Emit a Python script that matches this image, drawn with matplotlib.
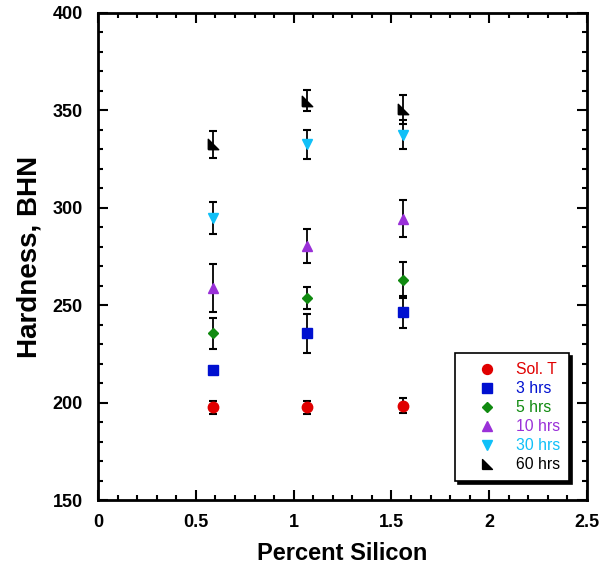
import matplotlib
matplotlib.use("Agg")
import matplotlib.pyplot as plt
from matplotlib.ticker import MultipleLocator

plt.rcParams['font.family'] = ['Liberation Sans', 'DejaVu Sans']

silicon = [0.59, 1.07, 1.56]

series_names = ["Sol. T", "3 hrs", "5 hrs", "10 hrs", "30 hrs", "60 hrs"]
hardness = {
    "Sol. T": [197.5, 197.5, 198.5],
    "3 hrs": [216.5, 235.5, 246.5],
    "5 hrs": [235.5, 253.5, 263.0],
    "10 hrs": [259.0, 280.5, 294.5],
    "30 hrs": [295.0, 332.5, 337.5],
    "60 hrs": [332.5, 355.0, 350.5],
}
errors = {
    "Sol. T": [3.5, 3.2, 3.7],
    "3 hrs": [0.0, 10.0, 8.0],
    "5 hrs": [7.8, 5.6, 9.2],
    "10 hrs": [12.4, 8.8, 9.6],
    "30 hrs": [8.2, 7.5, 7.5],
    "60 hrs": [7.1, 5.4, 7.3],
}

colors = {
    "Sol. T": "#e00000",
    "3 hrs": "#0010d0",
    "5 hrs": "#108a10",
    "10 hrs": "#9a30d8",
    "30 hrs": "#10c0f8",
    "60 hrs": "#000000",
}
corner_tri = [(-1, -1), (1, -1), (-1, 1), (-1, -1)]
markers = {
    "Sol. T": ("o", 7.5),
    "3 hrs": ("s", 7.5),
    "5 hrs": ("D", 5.4),
    "10 hrs": ("^", 7.5),
    "30 hrs": ("v", 7.5),
    "60 hrs": (corner_tri, 7.5),
}

fig = plt.figure(figsize=(6.02, 5.65), dpi=100)
ax = fig.add_axes([0.163, 0.115, 0.812, 0.862])

handles = []
for name in series_names:
    ax.errorbar(silicon, hardness[name], yerr=errors[name], fmt="none",
                ecolor="black", elinewidth=1.3, capsize=2.7, capthick=1.5, zorder=2)
    m, s = markers[name]
    h, = ax.plot(silicon, hardness[name], linestyle="none", marker=m,
                 markersize=s, color=colors[name], markeredgecolor=colors[name],
                 zorder=3, label=name)
    handles.append(h)

ax.set_xlim(0, 2.5)
ax.set_ylim(150, 400)
ax.xaxis.set_major_locator(MultipleLocator(0.5))
ax.xaxis.set_minor_locator(MultipleLocator(0.1))
ax.yaxis.set_major_locator(MultipleLocator(50))
ax.yaxis.set_minor_locator(MultipleLocator(10))
ax.set_xticks([0, 0.5, 1, 1.5, 2, 2.5])
ax.set_xticklabels(["0", "0.5", "1", "1.5", "2", "2.5"])

ax.tick_params(which="both", direction="in", top=True, right=True, width=1.5)
ax.tick_params(which="major", length=7, labelsize=13)
ax.tick_params(axis="y", which="major", pad=11)
ax.tick_params(axis="x", which="major", pad=10)
ax.tick_params(which="minor", length=3.5)
for lab in ax.get_xticklabels() + ax.get_yticklabels():
    lab.set_fontweight("bold")
for sp in ax.spines.values():
    sp.set_linewidth(2)

ax.set_xlabel("Percent Silicon", fontsize=17, fontweight="bold", labelpad=8)
ax.set_ylabel("Hardness, BHN", fontsize=20, fontweight="bold", labelpad=7)

leg = ax.legend(handles=handles, loc="lower right", bbox_to_anchor=(0.963, 0.039),
                borderaxespad=0, fontsize=11.3, frameon=True, fancybox=False,
                edgecolor="black", shadow={"color": "black", "alpha": 1},
                borderpad=0.55, labelspacing=0.26, handlelength=3.0,
                handletextpad=0.35, markerscale=0.95)
leg.get_frame().set_linewidth(1.2)
for txt, name in zip(leg.get_texts(), series_names):
    txt.set_color(colors[name])

fig.savefig("out.png", dpi=100)
